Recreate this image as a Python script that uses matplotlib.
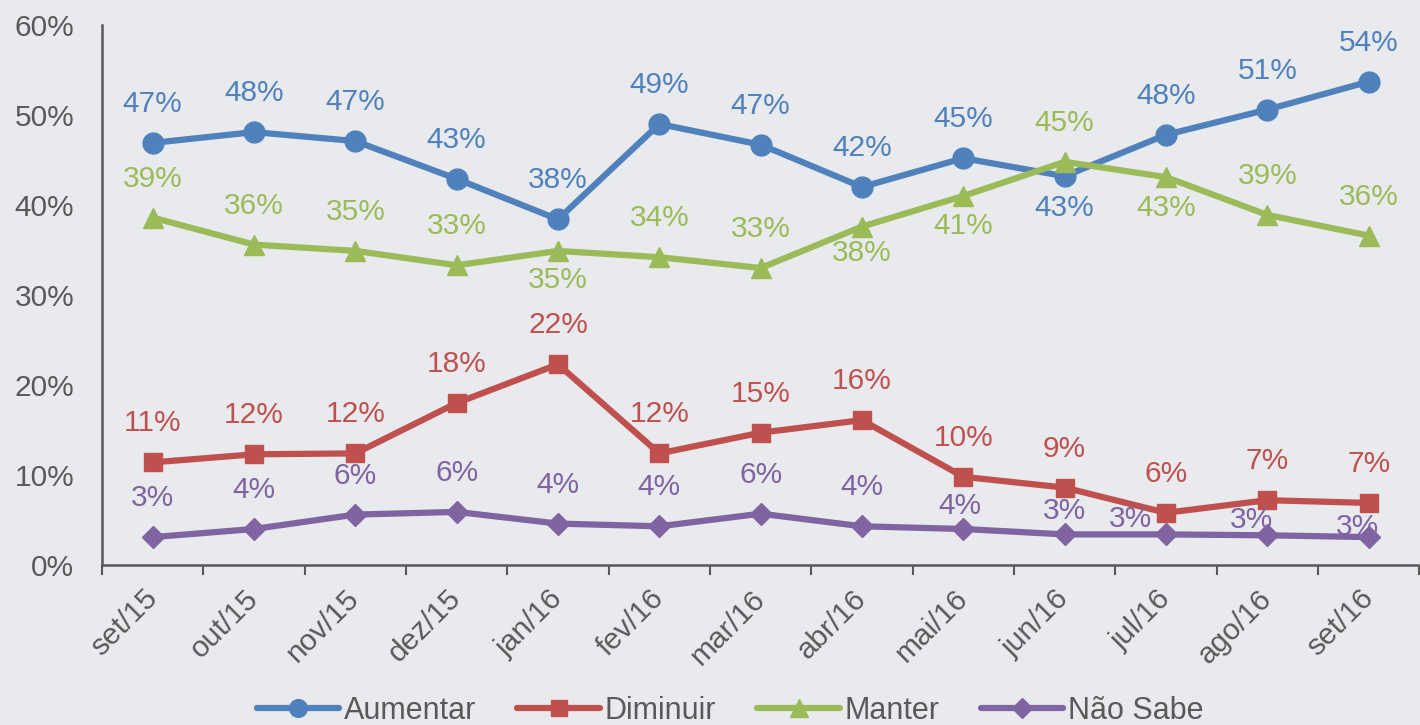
import matplotlib
matplotlib.use("Agg")
import matplotlib.pyplot as plt
from matplotlib.ticker import MultipleLocator, FuncFormatter, FixedLocator

plt.rcParams["font.family"] = ["Liberation Sans", "DejaVu Sans"]

months = ["set/15", "out/15", "nov/15", "dez/15", "jan/16", "fev/16", "mar/16",
          "abr/16", "mai/16", "jun/16", "jul/16", "ago/16", "set/16"]

aumentar = [46.9, 48.1, 47.1, 42.9, 38.4, 49.0, 46.7, 42.0, 45.2, 43.2, 47.8, 50.6, 53.7]
diminuir = [11.4, 12.3, 12.4, 18.0, 22.3, 12.4, 14.7, 16.1, 9.8, 8.6, 5.8, 7.2, 6.9]
manter = [38.6, 35.6, 34.9, 33.3, 34.9, 34.2, 33.0, 37.6, 41.0, 44.8, 43.1, 38.9, 36.6]
nao_sabe = [3.1, 4.0, 5.6, 5.9, 4.6, 4.3, 5.7, 4.3, 4.0, 3.4, 3.4, 3.3, 3.1]

# labels shown on the chart
lab_aumentar = [47, 48, 47, 43, 38, 49, 47, 42, 45, 43, 48, 51, 54]
lab_diminuir = [11, 12, 12, 18, 22, 12, 15, 16, 10, 9, 6, 7, 7]
lab_manter = [39, 36, 35, 33, 35, 34, 33, 38, 41, 45, 43, 39, 36]
lab_nao_sabe = [3, 4, 6, 6, 4, 4, 6, 4, 4, 3, 3, 3, 3]

# label placement (pixel offsets from the point); default is above
below_aumentar = {9: (0, -32)}
below_manter = {4: (0, -29), 7: (0, -26), 8: (0, -30), 10: (0, -31)}
moved_nao_sabe = {8: (-3, 23), 9: (0, 23), 10: (-35, 15), 11: (-16, 15), 12: (-11, 10)}

series = [
    ("Aumentar", aumentar, lab_aumentar, below_aumentar, "#4f81bd", "o", 15),
    ("Diminuir", diminuir, lab_diminuir, {}, "#c0504d", "s", 13.5),
    ("Manter", manter, lab_manter, below_manter, "#9bbb59", "^", 15),
    ("Não Sabe", nao_sabe, lab_nao_sabe, moved_nao_sabe, "#8064a2", "D", 11.5),
]

bg = "#e9eaed"
txt = "#595959"

fig = plt.figure(figsize=(14.2, 7.25), dpi=100, facecolor=bg)
ax = fig.add_axes([102 / 1420, 1 - 565 / 725, 1 - 102 / 1420 - 0.0005, (565 - 25) / 725])
ax.set_facecolor(bg)

x = list(range(len(months)))
handles = []
for name, vals, labs, moved, col, mk, ms in series:
    h, = ax.plot(x, vals, color=col, lw=4.5, marker=mk, markersize=ms,
                 markeredgecolor=col, label=name, solid_capstyle="round")
    handles.append(h)
    for i, (v, l) in enumerate(zip(vals, labs)):
        off = moved.get(i, (0, 39))
        ax.annotate(f"{l}%", (i, v), xytext=off, textcoords="offset pixels",
                    ha="center", va="center", color=col, fontsize=21.5)

ax.set_xlim(-0.5, len(months) - 0.5)
ax.set_ylim(0, 60)
ax.yaxis.set_major_locator(MultipleLocator(10))
ax.yaxis.set_major_formatter(FuncFormatter(lambda v, p: f"{v:.0f}%"))
ax.set_xticks(x)
ax.set_xticklabels(months, rotation=45, ha="right", va="center", rotation_mode="anchor")
ax.xaxis.set_minor_locator(FixedLocator([i - 0.5 for i in range(len(months) + 1)]))
ax.tick_params(axis="x", which="major", length=0, pad=21, labelsize=21.5, labelcolor=txt)
ax.tick_params(axis="x", which="minor", length=7, width=1.5, color=txt, direction="out")
ax.tick_params(axis="y", length=0, pad=20, labelsize=21.5, labelcolor=txt)
for s in ["top", "right"]:
    ax.spines[s].set_visible(False)
for s in ["left", "bottom"]:
    ax.spines[s].set_color(txt)
    ax.spines[s].set_linewidth(1.8)

leg = fig.legend(handles=handles, loc="center", bbox_to_anchor=(730 / 1420, 1 - 711 / 725),
                 ncol=4, frameon=False, handlelength=2.7,
                 handletextpad=0.15, columnspacing=1.35, markerscale=0.85,
                 prop={"size": 22})
for t in leg.get_texts():
    t.set_color(txt)

fig.savefig("out.png", dpi=100, facecolor=bg)
